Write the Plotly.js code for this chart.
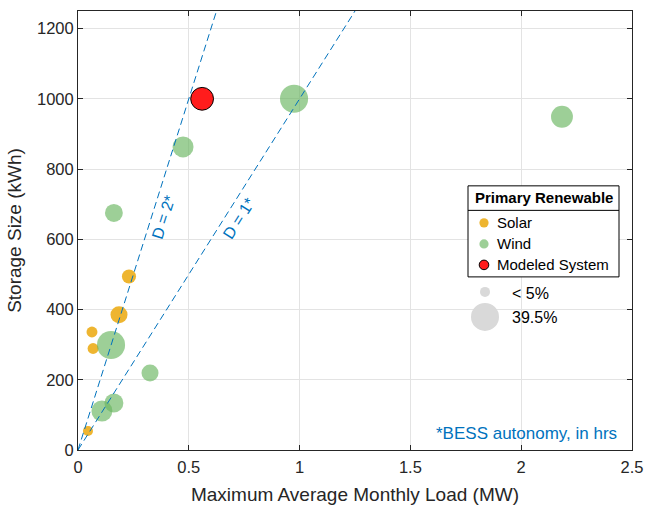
<!DOCTYPE html>
<html>
<head>
<meta charset="utf-8">
<script src="https://cdn.plot.ly/plotly-3.0.1.min.js"></script>
<style>html,body{margin:0;padding:0;background:#fff;}#chart{width:647px;height:505px;}</style>
</head>
<body>
<div id="chart"></div>
<script>
// ---- data ----
var solarLoad    = [0.045, 0.063, 0.068, 0.185, 0.230];
var solarStorage = [54, 336, 289, 385, 494];
var solarShare   = [5, 6, 6, 14.5, 10];

var windLoad    = [0.162, 0.149, 0.325, 0.108, 0.162, 0.474, 0.975, 2.184];
var windStorage = [675, 299, 219, 111, 134, 863, 1000, 949];
var windShare   = [16, 39.5, 14.5, 22, 18, 22, 39.5, 24];

var modelLoad    = [0.56];
var modelStorage = [1000];
var modelShare   = [26];

var autonomyHours = [2, 1];
var autonomyLabels = ['D = 2*', 'D = 1*'];
var lineLoadEnds = [0, 1.3];

var sizeLegendLabels = ['< 5%', '39.5%'];
var legendTitle = 'Primary Renewable';
var legendNames = ['Solar', 'Wind', 'Modeled System'];

var xTickVals = [0, 0.5, 1, 1.5, 2, 2.5];
var xTickText = ['0', '0.5', '1', '1.5', '2', '2.5'];
var yTickVals = [0, 200, 400, 600, 800, 1000, 1200];

// ---- geometry helpers (pixel -> paper) ----
var L = 78, R = 632, T = 11.25, B = 450;
function px(x){ return (x - L) / (R - L); }
function py(y){ return (B - y) / (B - T); }

var FONT = 'Liberation Sans, Arial, Helvetica, sans-serif';
var BLUE = '#0072BD';
var SOLAR = 'rgba(237,175,30,0.92)';
var WIND = 'rgba(105,182,95,0.65)';
var RED = '#FF1C1C';
var SIZEREF = 0.1;

var traces = [
  {x: solarLoad, y: solarStorage, mode: 'markers', type: 'scatter', name: legendNames[0],
   marker: {size: solarShare, sizemode: 'area', sizeref: SIZEREF, color: SOLAR, opacity: 1, line: {width: 0}}},
  {x: windLoad, y: windStorage, mode: 'markers', type: 'scatter', name: legendNames[1],
   marker: {size: windShare, sizemode: 'area', sizeref: SIZEREF, color: WIND, opacity: 1, line: {width: 0}}},
  {x: modelLoad, y: modelStorage, mode: 'markers', type: 'scatter', name: legendNames[2],
   marker: {size: modelShare, sizemode: 'area', sizeref: SIZEREF, color: RED, opacity: 1, line: {width: 1, color: '#000'}}}
];
autonomyHours.forEach(function(h){
  traces.push({x: lineLoadEnds, y: lineLoadEnds.map(function(v){ return v * h * 1000; }),
    mode: 'lines', type: 'scatter', line: {color: BLUE, width: 1, dash: '7px,4px'}, hoverinfo: 'skip'});
});

var shapes = [
  {type: 'rect', xref: 'paper', yref: 'paper', x0: px(468), x1: px(619), y0: py(277), y1: py(186),
   line: {color: '#000', width: 1}, fillcolor: '#fff', layer: 'above'},
  {type: 'line', xref: 'paper', yref: 'paper', x0: px(468), x1: px(619), y0: py(210.5), y1: py(210.5),
   line: {color: '#000', width: 1}, layer: 'above'}
];
function circ(cx, cy, r, fill, lc, lw){
  shapes.push({type: 'circle', xref: 'paper', yref: 'paper', x0: px(cx - r), x1: px(cx + r), y0: py(cy + r), y1: py(cy - r),
    fillcolor: fill, line: {color: lc || fill, width: lw || 0}, layer: 'above'});
}
circ(484, 223, 4.6, SOLAR);
circ(484, 244, 4.6, WIND);
circ(484, 265, 4.8, RED, '#000', 1);
circ(485, 292, 5, '#D9D9D9');
circ(485, 317, 14, '#D9D9D9');

var annotations = [
  {xref: 'paper', yref: 'paper', x: px(543.5), y: py(198), text: '<b>' + legendTitle + '</b>', showarrow: false,
   xanchor: 'center', yanchor: 'middle', font: {family: FONT, size: 15, color: '#000'}},
  {xref: 'paper', yref: 'paper', x: px(495), y: py(223), text: legendNames[0], showarrow: false,
   xanchor: 'left', yanchor: 'middle', font: {family: FONT, size: 15, color: '#000'}},
  {xref: 'paper', yref: 'paper', x: px(495), y: py(244), text: legendNames[1], showarrow: false,
   xanchor: 'left', yanchor: 'middle', font: {family: FONT, size: 15, color: '#000'}},
  {xref: 'paper', yref: 'paper', x: px(495), y: py(265), text: legendNames[2], showarrow: false,
   xanchor: 'left', yanchor: 'middle', font: {family: FONT, size: 15, color: '#000'}},
  {xref: 'paper', yref: 'paper', x: px(510), y: py(294), text: sizeLegendLabels[0], showarrow: false,
   xanchor: 'left', yanchor: 'middle', font: {family: FONT, size: 16, color: '#000'}},
  {xref: 'paper', yref: 'paper', x: px(510), y: py(318), text: sizeLegendLabels[1], showarrow: false,
   xanchor: 'left', yanchor: 'middle', font: {family: FONT, size: 16, color: '#000'}},
  {xref: 'x', yref: 'y', x: 0.388, y: 664, text: autonomyLabels[0], showarrow: false, textangle: -72.5,
   xanchor: 'center', yanchor: 'middle', font: {family: FONT, size: 16, color: BLUE}},
  {xref: 'x', yref: 'y', x: 0.727, y: 658, text: autonomyLabels[1], showarrow: false, textangle: -57.7,
   xanchor: 'center', yanchor: 'middle', font: {family: FONT, size: 16, color: BLUE}},
  {xref: 'paper', yref: 'paper', x: px(526), y: py(434), text: '*BESS autonomy, in hrs', showarrow: false,
   xanchor: 'center', yanchor: 'middle', font: {family: FONT, size: 17, color: BLUE}}
];

var axisCommon = {
  showline: true, linecolor: '#262626', linewidth: 1, mirror: 'ticks',
  ticks: 'inside', ticklen: 5, tickcolor: '#262626', tickwidth: 1,
  showgrid: true, gridcolor: '#E3E3E3', gridwidth: 1, zeroline: false,
  tickfont: {family: FONT, size: 16.5, color: '#262626'}
};

var layout = {
  width: 647, height: 505,
  margin: {l: L, r: 647 - R, t: T, b: 505 - B},
  paper_bgcolor: '#fff', plot_bgcolor: '#fff',
  showlegend: false,
  font: {family: FONT},
  xaxis: Object.assign({}, axisCommon, {range: [0, 2.5], tickvals: xTickVals, ticktext: xTickText,
    ticklabelstandoff: 2,
    title: {text: 'Maximum Average Monthly Load (MW)', font: {family: FONT, size: 19, color: '#262626'}, standoff: 12}}),
  yaxis: Object.assign({}, axisCommon, {range: [0, 1250], tickvals: yTickVals,
    title: {text: 'Storage Size (kWh)', font: {family: FONT, size: 19, color: '#262626'}, standoff: 10}}),
  shapes: shapes,
  annotations: annotations
};

Plotly.newPlot('chart', traces, layout, {displayModeBar: false, staticPlot: true});
</script>
</body>
</html>
